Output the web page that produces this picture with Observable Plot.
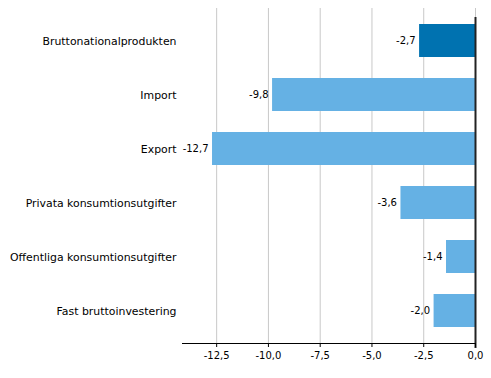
<!DOCTYPE html>
<html>
<head>
<meta charset="utf-8">
<script src="https://cdn.jsdelivr.net/npm/d3@7"></script>
<script src="https://cdn.jsdelivr.net/npm/@observablehq/plot@0.6"></script>
<style>
  html, body { margin: 0; padding: 0; background: #fff; }
  #chart svg { display: block; }
</style>
</head>
<body>
<div id="chart"></div>
<script>
const categories = [
  "Bruttonationalprodukten",
  "Import",
  "Export",
  "Privata konsumtionsutgifter",
  "Offentliga konsumtionsutgifter",
  "Fast bruttoinvestering"
];
const values = [-2.7, -9.8, -12.7, -3.6, -1.4, -2.0];
const highlight = [true, false, false, false, false, false];
const xTicks = [-12.5, -10, -7.5, -5, -2.5, 0];

const data = categories.map((c, i) => ({category: c, value: values[i], hl: highlight[i]}));
const fmt = v => v.toFixed(1).replace(".", ",");
const font = "DejaVu Sans, sans-serif";

const chart = Plot.plot({
  width: 491,
  height: 378,
  marginTop: 8,
  marginBottom: 35,
  marginLeft: 182,
  marginRight: 16,
  style: {fontFamily: font, fontSize: "10px", color: "#000", background: "#fff"},
  x: {domain: [-14.15, 0], ticks: xTicks, tickFormat: fmt, label: null},
  y: {domain: categories, paddingInner: 0.385, paddingOuter: 0.277, label: null},
  marks: [
    Plot.gridX(xTicks, {stroke: "#c8c8c8", strokeOpacity: 1, strokeWidth: 1}),
    Plot.barX(data, {x: "value", y: "category", fill: d => d.hl ? "#0072b0" : "#65b1e4"}),
    Plot.text(data, {x: "value", y: "category", text: d => fmt(d.value), textAnchor: "end", dx: -4, fontSize: 10, fill: "#000"}),
    Plot.ruleX([0], {stroke: "#222", strokeWidth: 2, insetTop: 9, insetBottom: -5}),
    Plot.frame({anchor: "bottom", stroke: "#000"}),
    Plot.axisX({ticks: xTicks, tickFormat: fmt, tickSize: 4, tickPadding: 4, label: null, fontSize: 10}),
    Plot.axisY({tickSize: 0, tickPadding: 6, label: null, fontSize: 10.9})
  ]
});
document.getElementById("chart").appendChild(chart);
</script>
</body>
</html>
